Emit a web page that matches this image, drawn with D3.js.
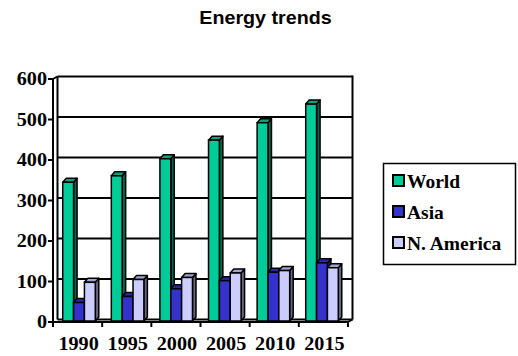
<!DOCTYPE html>
<html>
<head>
<meta charset="utf-8">
<script src="https://cdn.jsdelivr.net/npm/d3@7"></script>
<style>
html, body { margin: 0; padding: 0; background: #fff; }
svg { display: block; }
</style>
</head>
<body>
<svg id="chart" width="518" height="356"></svg>
<script>
const years = ["1990", "1995", "2000", "2005", "2010", "2015"];
const seriesNames = ["World", "Asia", "N. America"];
const world = [345, 361, 403, 449, 492, 538];
const asia = [48, 63, 82, 102, 123, 146];
const nAmerica = [98, 105, 110, 121, 127, 134];
const yTicks = [0, 100, 200, 300, 400, 500, 600];
const title = "Energy trends";

const seriesValues = [world, asia, nAmerica];
const fronts = ["#00CC99", "#3333CC", "#CCCCFF"];
const sides = ["#00664C", "#1A1A66", "#66667F"];
const tops = ["#00A37A", "#2929A3", "#A3A3CC"];

const svg = d3.select("#chart");
const left = 53, right = 348, base = 322, topY = 79;
const dx = 4.5, dy = -2.5;   // wall depth
const bdx = 3.5, bdy = -4;   // bar depth

const y = d3.scaleLinear().domain([0, 600]).range([base, topY]);
const x0 = d3.scaleBand().domain(years).range([left, right]).paddingInner(0.33).paddingOuter(0.2);
const x1 = d3.scaleBand().domain(seriesNames).range([0, x0.bandwidth()]).padding(0);
const xEdge = d3.scaleLinear().domain([0, years.length]).range([left, right]);

const sx = 1.12; // horizontal stretch of text
function stretchedText(g, xPos, yPos, txt, anchor) {
  return g.append("text")
    .attr("transform", `translate(${xPos},${yPos}) scale(${sx},1)`)
    .attr("text-anchor", anchor)
    .text(txt);
}

// Title
svg.append("text")
  .attr("transform", `translate(265.5,23.5) scale(${sx},1)`)
  .attr("text-anchor", "middle")
  .attr("font-family", "Liberation Sans, Arial, sans-serif")
  .attr("font-weight", "bold")
  .attr("font-size", 17.6)
  .text(title);

// Back wall gridlines
const grid = svg.append("g").attr("stroke", "#000").attr("stroke-width", 2);
yTicks.filter(v => v > 0).forEach(v => {
  grid.append("line")
    .attr("x1", left + dx).attr("x2", right + dx)
    .attr("y1", y(v) + dy).attr("y2", y(v) + dy);
});
// wall edges
grid.append("line").attr("x1", left + dx).attr("x2", left + dx).attr("y1", y(600) + dy).attr("y2", base + dy);
grid.append("line").attr("x1", right + dx).attr("x2", right + dx).attr("y1", y(600) + dy - 1).attr("y2", base + dy);
grid.append("line").attr("x1", left + dx).attr("x2", right + dx).attr("y1", base + dy).attr("y2", base + dy);
grid.append("line").attr("x1", left).attr("x2", left + dx).attr("y1", y(600)).attr("y2", y(600) + dy);
grid.append("line").attr("x1", right).attr("x2", right + dx).attr("y1", base).attr("y2", base + dy);

// Bars
const groups = svg.append("g").selectAll("g").data(years).join("g")
  .attr("transform", d => `translate(${x0(d)},0)`);

groups.each(function(yr, i) {
  const g = d3.select(this);
  seriesNames.forEach((s, k) => {
    const v = seriesValues[k][i];
    const bx = x1(s), bw = x1.bandwidth(), by = y(v), bb = base - 1;
    g.append("polygon")
      .attr("points", [[bx + bw, by], [bx + bw + bdx, by + bdy], [bx + bw + bdx, bb + bdy], [bx + bw, bb]].join(" "))
      .attr("fill", sides[k]).attr("stroke", "#000").attr("stroke-width", 1.5).attr("stroke-linejoin", "round");
    g.append("polygon")
      .attr("points", [[bx, by], [bx + bdx, by + bdy], [bx + bw + bdx, by + bdy], [bx + bw, by]].join(" "))
      .attr("fill", tops[k]).attr("stroke", "#000").attr("stroke-width", 1.5).attr("stroke-linejoin", "round");
    g.append("rect")
      .attr("x", bx).attr("y", by).attr("width", bw).attr("height", bb - by)
      .attr("fill", fronts[k]).attr("stroke", "#000").attr("stroke-width", 1.5);
  });
});

// Front axes
const axes = svg.append("g").attr("stroke", "#000").attr("stroke-width", 2);
axes.append("line").attr("x1", left).attr("x2", left).attr("y1", topY).attr("y2", base);
axes.append("line").attr("x1", left).attr("x2", right).attr("y1", base).attr("y2", base);
yTicks.forEach(v => {
  axes.append("line").attr("x1", left - 5).attr("x2", left).attr("y1", y(v)).attr("y2", y(v));
});
d3.range(years.length + 1).forEach(k => {
  axes.append("line").attr("x1", xEdge(k)).attr("x2", xEdge(k)).attr("y1", base).attr("y2", base + 5);
});

// Labels
const labels = svg.append("g")
  .attr("font-family", "Liberation Serif, Times New Roman, serif")
  .attr("font-weight", "bold")
  .attr("font-size", 18)
  .attr("fill", "#000");
yTicks.forEach(v => {
  stretchedText(labels, 47, y(v) + 6, String(v), "end");
});
years.forEach((yr, i) => {
  stretchedText(labels, (xEdge(i) + xEdge(i + 1)) / 2 + 1, 350, yr, "middle");
});

// Legend
const legend = svg.append("g");
legend.append("rect")
  .attr("x", 383.5).attr("y", 163.5).attr("width", 132).attr("height", 101)
  .attr("fill", "#fff").attr("stroke", "#000").attr("stroke-width", 1.5);
const legendY = d3.scalePoint().domain(seriesNames).range([181, 243]);
seriesNames.forEach((s, k) => {
  const cy = legendY(s);
  legend.append("rect")
    .attr("x", 393).attr("y", cy - 6).attr("width", 11).attr("height", 11)
    .attr("fill", fronts[k]).attr("stroke", "#000").attr("stroke-width", 2);
  legend.append("text")
    .attr("x", 407).attr("y", cy + 6.5)
    .attr("font-family", "Liberation Serif, Times New Roman, serif")
    .attr("font-weight", "bold")
    .attr("font-size", 19.5)
    .text(s);
});
</script>
</body>
</html>
